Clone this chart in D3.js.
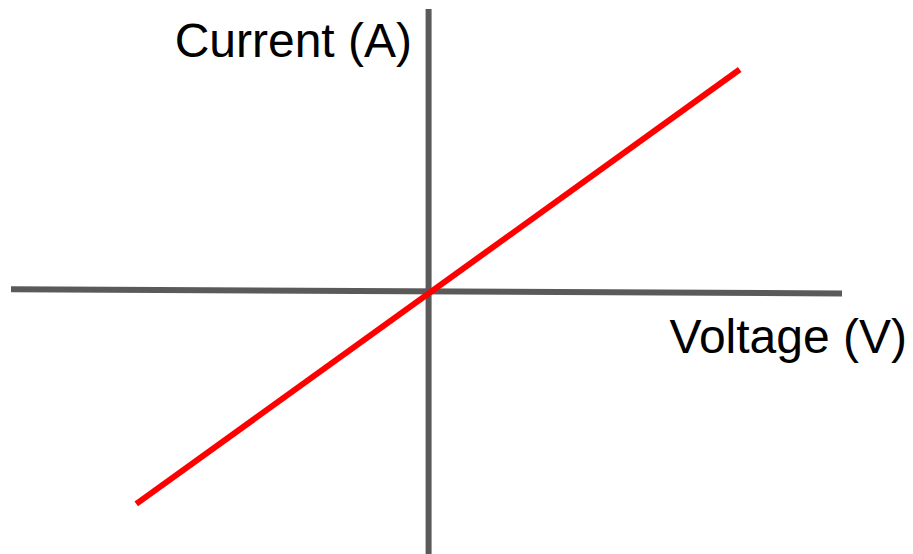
<!DOCTYPE html>
<html>
<head>
<meta charset="utf-8">
<script src="https://cdn.jsdelivr.net/npm/d3@7"></script>
<style>
  html, body { margin: 0; padding: 0; background: #fff; }
  svg { display: block; }
  text { font-family: "Liberation Sans", Arial, sans-serif; font-size: 48px; fill: #000; }
</style>
</head>
<body>
<svg id="chart" width="913" height="554"></svg>
<script>
// axis extents (in data units)
var voltageExtent = [-10, 9.9];
var currentExtent = [-6.3, 6.75];
// the drawn x axis drifts slightly downward to the right
var xAxisLevel = [0.04, -0.06];

// I-V line
var voltage = [-7.0, 7.45];
var current = [-5.1, 5.3];

var xLabel = "Voltage (V)";
var yLabel = "Current (A)";

function init() {
  var svg = d3.select("#chart");

  var x = d3.scaleLinear().domain(voltageExtent).range([11, 842]);
  var y = d3.scaleLinear().domain(currentExtent).range([554, 9]);

  var axisColor = "#5a5a5a";

  // horizontal axis
  svg.append("line")
    .attr("x1", x(voltageExtent[0]))
    .attr("x2", x(voltageExtent[1]))
    .attr("y1", y(xAxisLevel[0]))
    .attr("y2", y(xAxisLevel[1]))
    .attr("stroke", axisColor)
    .attr("stroke-width", 6);

  // vertical axis
  svg.append("line")
    .attr("x1", x(0))
    .attr("x2", x(0))
    .attr("y1", y(currentExtent[1]))
    .attr("y2", y(currentExtent[0]))
    .attr("stroke", axisColor)
    .attr("stroke-width", 6);

  var pts = voltage.map(function (v, i) { return [v, current[i]]; });
  var line = d3.line()
    .x(function (d) { return x(d[0]); })
    .y(function (d) { return y(d[1]); });

  svg.append("path")
    .datum(pts)
    .attr("d", line)
    .attr("fill", "none")
    .attr("stroke", "#ff0000")
    .attr("stroke-width", 6);

  svg.append("text")
    .attr("x", 412)
    .attr("y", 57)
    .attr("text-anchor", "end")
    .text(yLabel);

  svg.append("text")
    .attr("x", 907)
    .attr("y", 353)
    .attr("text-anchor", "end")
    .text(xLabel);
}

window.addEventListener("DOMContentLoaded", init);
</script>
</body>
</html>
